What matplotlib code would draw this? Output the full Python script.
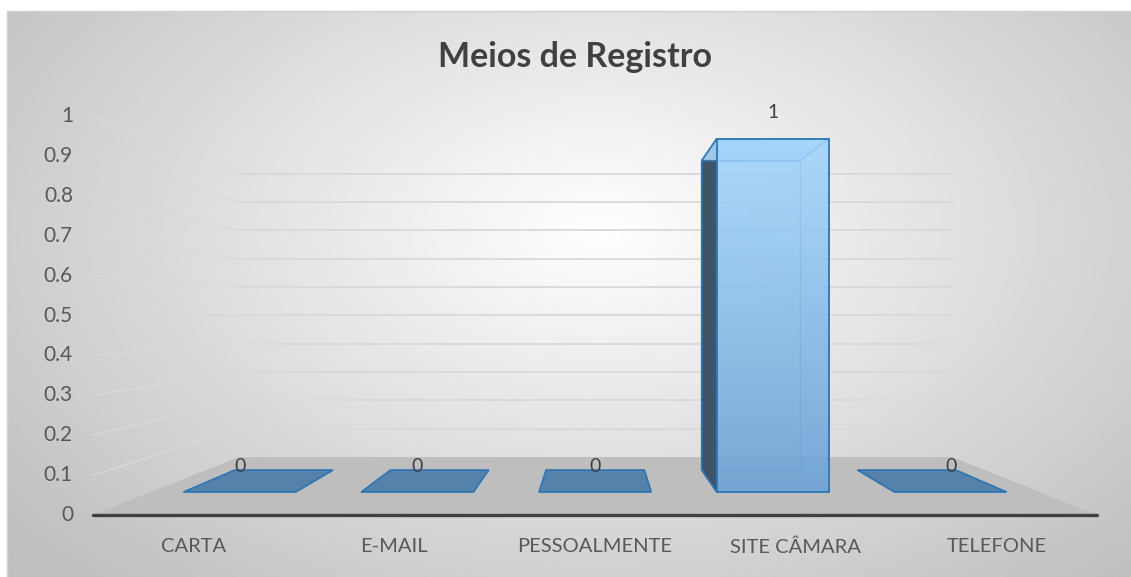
import numpy as np
from matplotlib import pyplot as plt
from matplotlib.patches import Polygon, Rectangle

plt.rcParams["font.family"] = ["Lato", "DejaVu Sans"]

TITLE = "Meios de Registro"
categories = ["CARTA", "E-MAIL", "PESSOALMENTE", "SITE CÂMARA", "TELEFONE"]
values = [0, 0, 0, 1, 0]
y_ticks = [0, 0.1, 0.2, 0.3, 0.4, 0.5, 0.6, 0.7, 0.8, 0.9, 1]
y_tick_labels = ["0", "0.1", "0.2", "0.3", "0.4", "0.5", "0.6", "0.7", "0.8", "0.9", "1"]

WIDTH, HEIGHT = 1131, 577

# front plane of the 3d box in pixels, plus a simple perspective towards the back
FRONT_LEFT, FRONT_RIGHT = 93.0, 1097.0
FRONT_BASE, FRONT_TOP = 515.0, 116.0
VANISH_X, VANISH_Y = 596.0, 315.0
DEPTH_K = 0.408
BAR_FRONT, BAR_BACK = 0.318, 0.711
GAP_FRACTION = 0.632
Y_MAX = 1.0

TEXT_DARK = "#404040"
TEXT_GREY = "#595959"
EDGE_BLUE = "#2E75B6"


def front_x(position):
    width = (FRONT_RIGHT - FRONT_LEFT) / len(categories)
    return FRONT_LEFT + position * width


def front_y(value):
    return FRONT_BASE - value / Y_MAX * (FRONT_BASE - FRONT_TOP)


def project(x, y, depth):
    scale = 1.0 / (1.0 + DEPTH_K * depth)
    return VANISH_X + scale * (x - VANISH_X), VANISH_Y + scale * (y - VANISH_Y)


def face(points, **kwargs):
    return Polygon([project(*p) for p in points], closed=True, **kwargs)


figure = plt.figure(figsize=(WIDTH / 100, HEIGHT / 100), dpi=100)
axis = figure.add_axes([0, 0, 1, 1])
axis.set_xlim(0, WIDTH)
axis.set_ylim(HEIGHT, 0)
axis.axis("off")

# radial background of the chart area
gx, gy = np.meshgrid(np.linspace(7, WIDTH, 400), np.linspace(11, HEIGHT, 200))
radius = np.sqrt(((gx - 600) / 640) ** 2 + ((gy - 230) / 400) ** 2)
shade = 1.0 - 0.23 * np.clip(radius, 0, 1.2) / 1.2 * 1.1
axis.imshow(shade, cmap="gray", vmin=0, vmax=1, extent=(7, WIDTH, HEIGHT, 11),
            aspect="auto", zorder=0, interpolation="bilinear")
axis.add_patch(Rectangle((7, 11), WIDTH, HEIGHT, fill=False, edgecolor="#D0D0D0",
                         linewidth=1, zorder=1))

# walls: back gridlines and left-wall gridlines
for tick in y_ticks[1:]:
    y = front_y(tick)
    bx0, by = project(FRONT_LEFT, y, 1)
    bx1, _ = project(FRONT_RIGHT, y, 1)
    axis.plot([bx0, bx1], [by, by], color="#D9D9D9", linewidth=1.3, zorder=2)
    lx, ly = project(FRONT_LEFT, y, 0)
    axis.plot([lx, bx0], [ly, by], color="#DADADA", linewidth=1.2, alpha=0.8, zorder=2)

# floor
axis.add_patch(face([(FRONT_LEFT, FRONT_BASE, 0), (FRONT_RIGHT, FRONT_BASE, 0),
                     (FRONT_RIGHT, FRONT_BASE, 1), (FRONT_LEFT, FRONT_BASE, 1)],
                    facecolor="#BEBEBE", edgecolor="none", zorder=3))
axis.plot([FRONT_LEFT, FRONT_RIGHT], [FRONT_BASE, FRONT_BASE], color=TEXT_DARK,
          linewidth=2.4, solid_capstyle="round", zorder=8)

# bars
bar_half = (FRONT_RIGHT - FRONT_LEFT) / len(categories) * GAP_FRACTION / 2
for index, value in enumerate(values):
    cx = front_x(index + 0.5)
    x0, x1 = cx - bar_half, cx + bar_half
    yb, yt = FRONT_BASE, front_y(value)
    if value == 0:
        axis.add_patch(face([(x0, yb, BAR_FRONT), (x1, yb, BAR_FRONT),
                             (x1, yb, BAR_BACK), (x0, yb, BAR_BACK)],
                            facecolor="#5581AB", edgecolor=EDGE_BLUE,
                            linewidth=1.2, zorder=4))
    else:
        # hidden back edges seen through the front face
        back = [project(x0, yb, BAR_BACK), project(x1, yb, BAR_BACK),
                project(x1, yt, BAR_BACK), project(x0, yt, BAR_BACK)]
        axis.add_patch(Polygon(back, closed=True, fill=False, edgecolor="#5EA3E6",
                               linewidth=1.0, zorder=4))
        for px, py in [(x1, yb), (x1, yt), (x0, yb)]:
            fx, fy = project(px, py, BAR_FRONT)
            kx, ky = project(px, py, BAR_BACK)
            axis.plot([fx, kx], [fy, ky], color="#5EA3E6", linewidth=1.0, zorder=4)
        side_x = x0 if cx > VANISH_X else x1
        axis.add_patch(face([(side_x, yb, BAR_FRONT), (side_x, yt, BAR_FRONT),
                             (side_x, yt, BAR_BACK), (side_x, yb, BAR_BACK)],
                            facecolor="#3E5569", edgecolor=EDGE_BLUE,
                            linewidth=1.2, zorder=5))
        axis.add_patch(face([(x0, yt, BAR_FRONT), (x1, yt, BAR_FRONT),
                             (x1, yt, BAR_BACK), (x0, yt, BAR_BACK)],
                            facecolor="#A6D6FB", edgecolor=EDGE_BLUE,
                            linewidth=1.2, alpha=0.9, zorder=5))
        fx0, fy_top = project(x0, yt, BAR_FRONT)
        fx1, fy_bot = project(x1, yb, BAR_FRONT)
        gradient = np.linspace(0, 1, 100).reshape(-1, 1)
        top_rgb = np.array([0xA3, 0xD5, 0xFB]) / 255
        bot_rgb = np.array([0x6C, 0xA2, 0xD6]) / 255
        colours = top_rgb + gradient[..., None] * (bot_rgb - top_rgb)
        axis.imshow(colours, extent=(fx0, fx1, fy_bot, fy_top), aspect="auto",
                    alpha=0.88, zorder=6, interpolation="bilinear")
        axis.add_patch(Rectangle((fx0, fy_top), fx1 - fx0, fy_bot - fy_top, fill=False,
                                 edgecolor=EDGE_BLUE, linewidth=1.3, zorder=7))
    lx, ly = project(cx, yt, BAR_FRONT)
    axis.text(lx, ly - 26, f"{value:g}", ha="center", va="center", fontsize=14,
              color=TEXT_DARK, zorder=9)

# value axis labels and categories
for tick, label in zip(y_ticks, y_tick_labels):
    axis.text(73, front_y(tick), label, ha="right", va="center", fontsize=15,
              color=TEXT_GREY, zorder=9)
for index, name in enumerate(categories):
    axis.text(front_x(index + 0.5), 547, name, ha="center", va="center",
              fontsize=14.5, color=TEXT_GREY, zorder=9)

axis.text(575, 57, TITLE, ha="center", va="center", fontsize=24.5, fontweight="bold",
          color=TEXT_DARK, zorder=9)

figure.savefig("out.png", dpi=100)
plt.close(figure)
